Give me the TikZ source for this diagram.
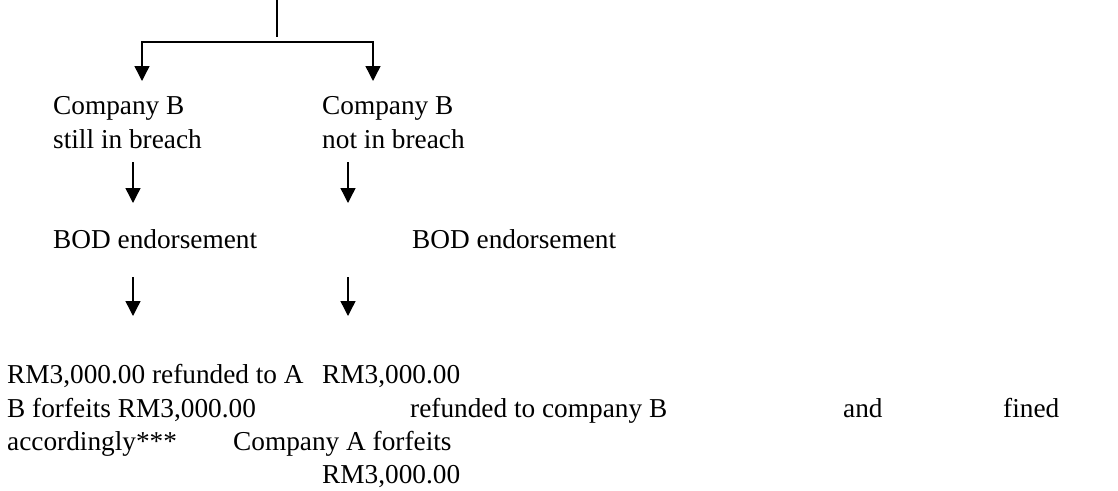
\documentclass[tikz,border=0pt]{standalone}
\usepackage{fontspec}
\setmainfont{Liberation Serif}
\usetikzlibrary{arrows.meta}
\begin{document}
\begin{tikzpicture}[x=1pt,y=-1pt,
  txt/.style={anchor=base west,inner sep=0pt,font=\fontsize{27.3}{34}\selectfont},
  ln/.style={line width=1.6pt},
  arr/.style={line width=1.4pt,-{Triangle[length=15pt,width=15pt]}}]
\useasboundingbox (0,0) rectangle (1118,490);
% top connector
\coordinate (top) at (277,0);
\coordinate (topend) at (277,36.5);
\coordinate (hl) at (142,42);
\coordinate (hr) at (373,42);
\coordinate (al) at (142,81);
\coordinate (ar) at (373,81);
\draw[ln] (top) -- (topend);
\draw[ln,line cap=rect] (hl) -- (hr);
\draw[arr] (hl) -- (al);
\draw[arr] (hr) -- (ar);
% second level
\node[txt] (sb1) at (53,114) {Company B};
\node[txt] (sb2) at (53,148) {still in breach};
\node[txt] (nb1) at (322,114) {Company B};
\node[txt] (nb2) at (322,148) {not in breach};
\coordinate (l1s) at (133,162);
\coordinate (l1e) at (133,203);
\coordinate (r1s) at (348,162);
\coordinate (r1e) at (348,203);
\draw[arr] (l1s) -- (l1e);
\draw[arr] (r1s) -- (r1e);
\node[txt] (bodl) at (53,248) {BOD endorsement};
\node[txt] (bodr) at (412,248) {BOD endorsement};
\coordinate (l2s) at (133,277);
\coordinate (l2e) at (133,316);
\coordinate (r2s) at (348,277);
\coordinate (r2e) at (348,316);
\draw[arr] (l2s) -- (l2e);
\draw[arr] (r2s) -- (r2e);
% bottom text
\node[txt] (a1) at (7,383) {RM3,000.00 refunded to A};
\node[txt] (a2) at (7,417) {B forfeits RM3,000.00};
\node[txt] (a3) at (7,450) {accordingly***};
\node[txt] (b1) at (322,383) {RM3,000.00};
\node[txt] (b2) at (410,417) {refunded to company B};
\node[txt] (b3) at (843,417) {and};
\node[txt] (b4) at (1003,417) {fined};
\node[txt] (b5) at (233,450) {Company A forfeits};
\node[txt] (b6) at (322,483) {RM3,000.00};
\end{tikzpicture}
\end{document}
